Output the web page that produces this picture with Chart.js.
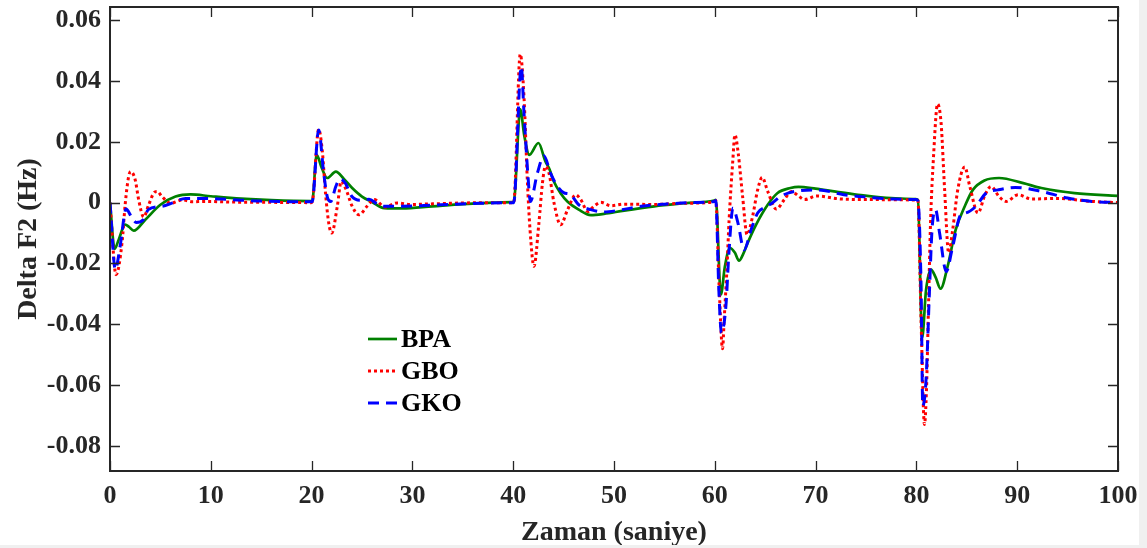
<!DOCTYPE html>
<html>
<head>
<meta charset="utf-8">
<script src="https://cdn.jsdelivr.net/npm/chart.js@4.4.1/dist/chart.umd.min.js"></script>
<style>
  html, body { margin: 0; padding: 0; background: #f0f0f0; }
  #wrap { width: 1139px; height: 545px; background: #fff; }
</style>
</head>
<body>
<div id="wrap"><canvas id="freqChart"></canvas></div>
<script>
// axis ticks
const xTicks = [0, 10, 20, 30, 40, 50, 60, 70, 80, 90, 100]
const yTicks = [-0.08, -0.06, -0.04, -0.02, 0, 0.02, 0.04, 0.06]

// BPA response (s, Hz)
const bpaTime = [0, 0.46, 0.86, 1.5, 1.9, 2.35, 3.5, 5, 6.5, 8, 10, 13, 16, 19.95,
    20.06, 20.5, 21.0, 21.55, 22.4, 23.2, 24.0, 25.0, 26.0, 27.2, 29, 32, 35, 38, 39.95,
    40.05, 40.7, 41.1, 41.6, 42.5, 43.2, 43.6, 44.0, 44.7, 45.4, 46.5, 47.7, 49, 51, 54, 57, 59.95,
    60.1, 60.6, 61.0, 61.5, 62.0, 62.4, 62.8, 63.25, 64.1, 65.25, 66.2, 67.5, 68.3, 70, 72, 74.2, 77.5, 79.95,
    80.15, 80.57, 80.96, 81.45, 81.9, 82.4, 83.1, 83.9, 84.8, 85.6, 86.75, 88.2, 90.6, 92.4, 95.7, 100]
const bpaValues = [0, -0.0152, -0.0122, -0.0072, -0.0080, -0.0092, -0.0056, -0.0007, 0.0020, 0.0027, 0.0021, 0.0013, 0.0008, 0.0005,
    0.0005, 0.0157, 0.0115, 0.0081, 0.0102, 0.0078, 0.0049, 0.0020, 0.0002, -0.0018, -0.0019, -0.0012, -0.0005, 0, 0.0002,
    0.0002, 0.0307, 0.0220, 0.0157, 0.0196, 0.0135, 0.0110, 0.0072, 0.0031, 0.0003, -0.0023, -0.0041, -0.0037, -0.0026, -0.0012, -0.0002, 0.0007,
    0.0009, -0.0302, -0.0210, -0.0149, -0.0165, -0.0191, -0.0170, -0.0133, -0.0072, -0.0007, 0.0031, 0.0048, 0.0052, 0.0046, 0.0036, 0.0026, 0.0015, 0.0012,
    0.0009, -0.0444, -0.0286, -0.0220, -0.0245, -0.0283, -0.0209, -0.0089, -0.0012, 0.0042, 0.0073, 0.0081, 0.0064, 0.0048, 0.0031, 0.0022]

// GBO response
const gboTime = [0, 0.6, 1.19, 1.52, 1.85, 2.05, 2.5, 2.84, 3.34, 3.84, 4.33, 4.67, 5.16, 6.0, 7.2, 8.2, 9.5, 12, 16, 19.95,
    20.06, 20.7, 21.05, 21.38, 21.7, 22.0, 22.55, 22.94, 23.4, 24.0, 24.7, 25.5, 26.2, 27.3, 28.5, 29.8, 32, 35, 39.95,
    40.05, 40.7, 41.07, 41.4, 41.67, 42.06, 42.55, 42.9, 43.2, 43.55, 44.05, 44.7, 45.4, 46.2, 46.7, 47.4, 48.0, 48.7, 49.7, 51, 54, 57, 59.95,
    60.1, 60.43, 60.77, 60.93, 61.2, 61.42, 61.77, 62.0, 62.32, 62.76, 63.2, 63.75, 64.25, 64.7, 65.25, 66.1, 66.9, 67.6, 68.3, 68.9, 70.1, 72.5, 76, 79.95,
    80.15, 80.47, 80.8, 81.0, 81.2, 81.4, 81.7, 82.1, 82.45, 82.8, 83.2, 83.6, 84.1, 84.8, 85.3, 86.1, 86.8, 87.4, 88.2, 88.9, 90.1, 91.4, 94, 97.4, 100]
const gboValues = [0, -0.0237, -0.0133, -0.0001, 0.0086, 0.0102, 0.0075, 0.0010, -0.0047, -0.0007, 0.0031, 0.0037, 0.0020, -0.0002, 0.0009, 0.0003, 0.0004, 0.0002, 0.0001, 0,
    0.0002, 0.0241, 0.0174, 0.0031, -0.0067, -0.0100, -0.0012, 0.0070, 0.0045, -0.0010, -0.0040, -0.0012, 0.0010, -0.0014, -0.0001, -0.0006, -0.0004, -0.0001, 0,
    0, 0.0488, 0.0348, 0.0075, -0.0089, -0.0209, -0.0067, 0.0064, 0.0119, 0.0097, -0.0001, -0.0073, -0.0023, 0.0026, 0.0010, -0.0029, -0.0012, 0.0001, -0.0010, -0.0005, -0.0006, -0.0002, 0.0003,
    0.0007, -0.0275, -0.0480, -0.0384, -0.0220, -0.0056, 0.0130, 0.0223, 0.0163, 0.0020, -0.0105, -0.0045, 0.0042, 0.0083, 0.0037, -0.0021, 0.0010, 0.0037, 0.0022, 0.0010, 0.0022, 0.0012, 0.0010, 0.0009,
    0.0008, -0.0395, -0.0729, -0.0614, -0.0340, -0.0067, 0.0152, 0.0324, 0.0261, 0.0042, -0.0165, -0.0089, 0.0042, 0.0117, 0.0053, -0.0034, 0.0025, 0.0053, 0.0020, 0.0004, 0.0026, 0.0012, 0.0014, 0.0004, 0]

// GKO response
const gkoTime = [0, 0.53, 1.0, 1.6, 2.1, 2.6, 3.3, 3.8, 5.2, 6.2, 7.5, 9.5, 12, 15, 19.95,
    20.06, 20.7, 21.2, 21.55, 21.9, 22.4, 22.8, 23.35, 24.0, 24.85, 25.7, 26.5, 27.2, 30.5, 32.8, 36, 39.95,
    40.05, 40.8, 41.07, 41.47, 41.7, 42.4, 43.05, 43.7, 44.4, 45.0, 45.7, 46.5, 47.7, 49, 50.5, 52.7, 55, 57.7, 59.95,
    60.1, 60.4, 60.66, 61.1, 61.4, 61.8, 62.3, 62.9, 63.6, 64.25, 65.0, 65.7, 66.5, 67.9, 70.2, 72.8, 75.2, 77.8, 79.95,
    80.15, 80.47, 80.63, 80.96, 81.3, 81.55, 81.9, 82.3, 82.96, 83.6, 84.4, 84.9, 85.9, 86.9, 88.1, 89.8, 92.4, 95, 97.4, 100]
const gkoValues = [0, -0.0220, -0.0144, -0.0021, -0.0045, -0.0065, -0.0056, -0.0023, -0.0012, -0.0001, 0.0014, 0.0014, 0.0010, 0.0005, 0.0003,
    0.0003, 0.0239, 0.0097, 0.0020, 0.0004, 0.0053, 0.0078, 0.0064, 0.0020, 0.0008, 0.0011, -0.0004, -0.0012, -0.0011, -0.0007, -0.0003, 0,
    0, 0.0447, 0.0294, 0.0086, 0.0004, 0.0097, 0.0154, 0.0097, 0.0053, 0.0033, 0.0026, -0.0007, -0.0023, -0.0031, -0.0025, -0.0012, -0.0005, 0, 0.0004,
    0.0007, -0.0286, -0.0428, -0.0340, -0.0165, -0.0018, -0.0067, -0.0155, -0.0089, -0.0034, -0.0015, -0.0001, 0.0020, 0.0037, 0.0042, 0.0026, 0.0018, 0.0012, 0.0010,
    0.0006, -0.0286, -0.0668, -0.0580, -0.0286, -0.0089, -0.0023, -0.0100, -0.0226, -0.0144, -0.0040, -0.0034, -0.0012, 0.0031, 0.0042, 0.0050, 0.0037, 0.0015, 0.0004, 0.0001]

const axisColor = "#262626"
const fontFamily = "'Liberation Serif', 'Times New Roman', serif"

function toPoints(times, values) {
    return times.map((t, i) => ({ x: t, y: values[i] }))
}

// box with inward tick marks and the legend in the lower left
const matlabFrame = {
    id: "matlabFrame",
    afterDatasetsDraw(chart) {
        const { ctx, chartArea: a, scales: { x, y } } = chart
        ctx.save()
        ctx.strokeStyle = axisColor
        ctx.lineWidth = 1.3
        ctx.beginPath()
        xTicks.forEach(v => {
            let px = Math.round(x.getPixelForValue(v)) + 0.5
            ctx.moveTo(px, a.bottom); ctx.lineTo(px, a.bottom - 10)
            ctx.moveTo(px, a.top); ctx.lineTo(px, a.top + 10)
        })
        yTicks.forEach(v => {
            let py = Math.round(y.getPixelForValue(v)) + 0.5
            ctx.moveTo(a.left, py); ctx.lineTo(a.left + 10, py)
            ctx.moveTo(a.right, py); ctx.lineTo(a.right - 10, py)
        })
        ctx.stroke()
        ctx.lineWidth = 2
        ctx.strokeRect(a.left, a.top, a.right - a.left, a.bottom - a.top)

        // legend
        ctx.font = "bold 26px " + fontFamily
        ctx.textBaseline = "middle"
        ctx.fillStyle = "#000"
        chart.data.datasets.forEach((ds, i) => {
            let ly = a.top + 332 + i * 32
            let lx = a.left + 258
            ctx.save()
            ctx.strokeStyle = ds.borderColor
            ctx.lineWidth = ds.borderWidth
            ctx.setLineDash(ds.borderDash || [])
            ctx.beginPath()
            ctx.moveTo(lx, ly); ctx.lineTo(lx + 29, ly)
            ctx.stroke()
            ctx.restore()
            ctx.fillText(ds.label, lx + 33, ly + 1)
        })
        ctx.restore()
    }
}

const ctx = document.getElementById("freqChart").getContext("2d")

new Chart(ctx, {
    type: "line",
    data: {
        datasets: [
            {
                label: "BPA",
                data: toPoints(bpaTime, bpaValues),
                borderColor: "#008000",
                borderWidth: 2.7,
                order: 2
            },
            {
                label: "GBO",
                data: toPoints(gboTime, gboValues),
                borderColor: "#ff0000",
                borderWidth: 3,
                borderDash: [3, 3],
                order: 1
            },
            {
                label: "GKO",
                data: toPoints(gkoTime, gkoValues),
                borderColor: "#0000ff",
                borderWidth: 3,
                borderDash: [11, 7],
                order: 0
            }
        ]
    },
    options: {
        responsive: true,
        maintainAspectRatio: false,
        animation: false,
        parsing: false,
        layout: { padding: { top: 7, right: 21, left: 0, bottom: 0 } },
        elements: {
            point: { radius: 0 },
            line: { cubicInterpolationMode: "monotone", fill: false, borderCapStyle: "butt" }
        },
        plugins: {
            legend: { display: false },
            tooltip: { enabled: false }
        },
        scales: {
            x: {
                type: "linear",
                min: 0,
                max: 100,
                afterBuildTicks: scale => { scale.ticks = xTicks.map(v => ({ value: v })) },
                afterFit: scale => {
                    scale.height = 74
                    scale.paddingLeft = 0
                    scale.paddingRight = 0
                },
                grid: { display: false, drawTicks: false },
                border: { display: false },
                ticks: {
                    padding: 10,
                    maxRotation: 0,
                    color: axisColor,
                    font: { family: fontFamily, size: 26, weight: "bold" }
                },
                title: {
                    display: true,
                    text: "Zaman (saniye)",
                    color: axisColor,
                    padding: { top: 0, bottom: 0 },
                    font: { family: fontFamily, size: 28, weight: "bold", lineHeight: 0.9 }
                }
            },
            y: {
                min: -0.0882,
                max: 0.0643,
                afterBuildTicks: scale => { scale.ticks = yTicks.map(v => ({ value: v })) },
                afterFit: scale => {
                    scale.width = 110
                    scale.paddingTop = 0
                    scale.paddingBottom = 0
                },
                grid: { display: false, drawTicks: false },
                border: { display: false },
                ticks: {
                    padding: 9,
                    color: axisColor,
                    font: { family: fontFamily, size: 26, weight: "bold" },
                    callback: v => Math.abs(v) < 1e-9 ? "0" : v.toFixed(2)
                },
                title: {
                    display: true,
                    text: "Delta F2 (Hz)",
                    color: axisColor,
                    padding: { top: 12, bottom: 0 },
                    font: { family: fontFamily, size: 28, weight: "bold" }
                }
            }
        }
    },
    plugins: [matlabFrame]
})
</script>
</body>
</html>
